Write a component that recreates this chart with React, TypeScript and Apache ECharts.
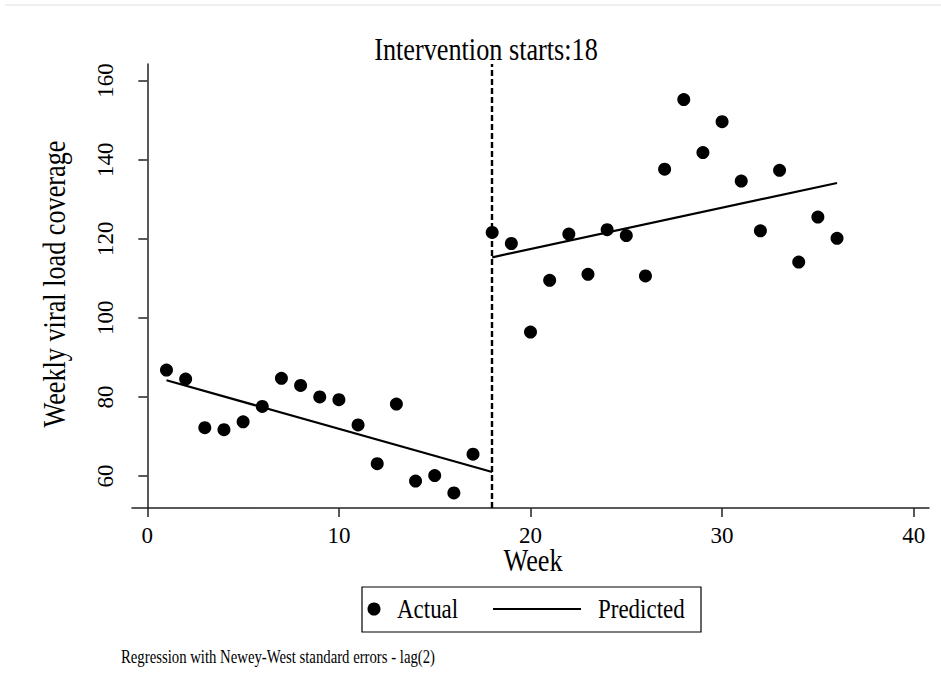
import React, { useEffect, useRef } from "react";
import * as echarts from "echarts";

const weeks = [1, 2, 3, 4, 5, 6, 7, 8, 9, 10, 11, 12, 13, 14, 15, 16, 17, 18, 19, 20, 21, 22, 23, 24, 25, 26, 27, 28, 29, 30, 31, 32, 33, 34, 35, 36];
const actualValues = [86.8, 84.5, 72.2, 71.7, 73.7, 77.6, 84.7, 82.9, 80.0, 79.3, 72.9, 63.1, 78.2, 58.7, 60.1, 55.7, 65.5, 121.6, 118.8, 96.4, 109.5, 121.2, 111.0, 122.3, 120.8, 110.6, 137.6, 155.2, 141.8, 149.6, 134.6, 122.0, 137.3, 114.1, 125.5, 120.1];
const predPreWeeks = [1, 18];
const predPreValues = [84.2, 61.0];
const predPostWeeks = [18, 36];
const predPostValues = [115.3, 134.1];
const interventionWeek = 18;
const xTicks = [0, 10, 20, 30, 40];
const yTicks = [60, 80, 100, 120, 140, 160];

const FONT = "'Liberation Serif', 'Times New Roman', serif";
const SX = 0.82;

export default function App() {
  const ref = useRef<HTMLDivElement>(null);
  useEffect(() => {
    document.body.style.margin = "0";
    if (!ref.current) return;
    const chart = echarts.init(ref.current, null, { renderer: "svg" });
    const zip = (xs: number[], ys: number[]) => xs.map((x, i) => [x, ys[i]]);
    const axisLineStyle = { color: "#222", width: 1.5 };
    const txt = (text: string, x: number, y: number, size: number, align: string, extra: any = {}) => ({
      type: "text",
      x,
      y,
      scaleX: SX,
      ...extra,
      style: { text, font: `${size}px ${FONT}`, fill: "#000", textAlign: align, textVerticalAlign: "middle" },
    });
    chart.setOption({
      animation: false,
      backgroundColor: "#fff",
      grid: { left: 132, top: 64, right: 12, bottom: 180, containLabel: false },
      xAxis: {
        type: "value",
        min: -0.8,
        max: 40.8,
        splitLine: { show: false },
        axisLine: { show: true, lineStyle: axisLineStyle },
        axisTick: { show: true, length: 9, lineStyle: axisLineStyle, customValues: xTicks },
        axisLabel: { customValues: xTicks, fontFamily: FONT, fontSize: 23, color: "#000", margin: 16 },
      },
      yAxis: {
        type: "value",
        min: 51.9,
        max: 164.2,
        splitLine: { show: false },
        axisLine: { show: true, lineStyle: axisLineStyle },
        axisTick: { show: true, length: 9, lineStyle: axisLineStyle, customValues: yTicks },
        axisLabel: { customValues: yTicks, rotate: 90, fontFamily: FONT, fontSize: 23, color: "#000", margin: 15 },
      },
      series: [
        {
          name: "Actual",
          type: "scatter",
          symbol: "circle",
          symbolSize: 13,
          itemStyle: { color: "#000", opacity: 1 },
          data: zip(weeks, actualValues),
          markLine: {
            silent: true,
            symbol: "none",
            label: { show: false },
            lineStyle: { color: "#000", width: 2.4, type: [6, 3], opacity: 1 },
            data: [{ xAxis: interventionWeek }],
          },
        },
        {
          name: "Predicted",
          type: "line",
          symbol: "none",
          lineStyle: { color: "#000", width: 2.2 },
          data: zip(predPreWeeks, predPreValues),
        },
        {
          name: "Predicted",
          type: "line",
          symbol: "none",
          lineStyle: { color: "#000", width: 2.2 },
          data: zip(predPostWeeks, predPostValues),
        },
      ],
      graphic: [
        { type: "line", shape: { x1: 5, y1: 5, x2: 941, y2: 5 }, style: { stroke: "#f0f0f0", lineWidth: 2 } },
        txt("Intervention starts:18", 486, 49, 32, "center"),
        txt("Week", 533, 560, 32, "center"),
        txt("Weekly viral load coverage", 54, 284, 32, "center", { rotation: Math.PI / 2 }),
        { type: "rect", shape: { x: 362, y: 587, width: 339, height: 45 }, style: { fill: "#fff", stroke: "#000", lineWidth: 1.2 } },
        { type: "circle", shape: { cx: 374, cy: 609, r: 6.5 }, style: { fill: "#000" } },
        txt("Actual", 397, 609, 28, "left"),
        { type: "line", shape: { x1: 493, y1: 609, x2: 581, y2: 609 }, style: { stroke: "#000", lineWidth: 2.2 } },
        txt("Predicted", 598, 609, 28, "left"),
        txt("Regression with Newey-West standard errors - lag(2)", 121, 657, 18, "left"),
      ],
    });
    return () => chart.dispose();
  }, []);
  return <div ref={ref} style={{ width: 941, height: 688 }} />;
}
